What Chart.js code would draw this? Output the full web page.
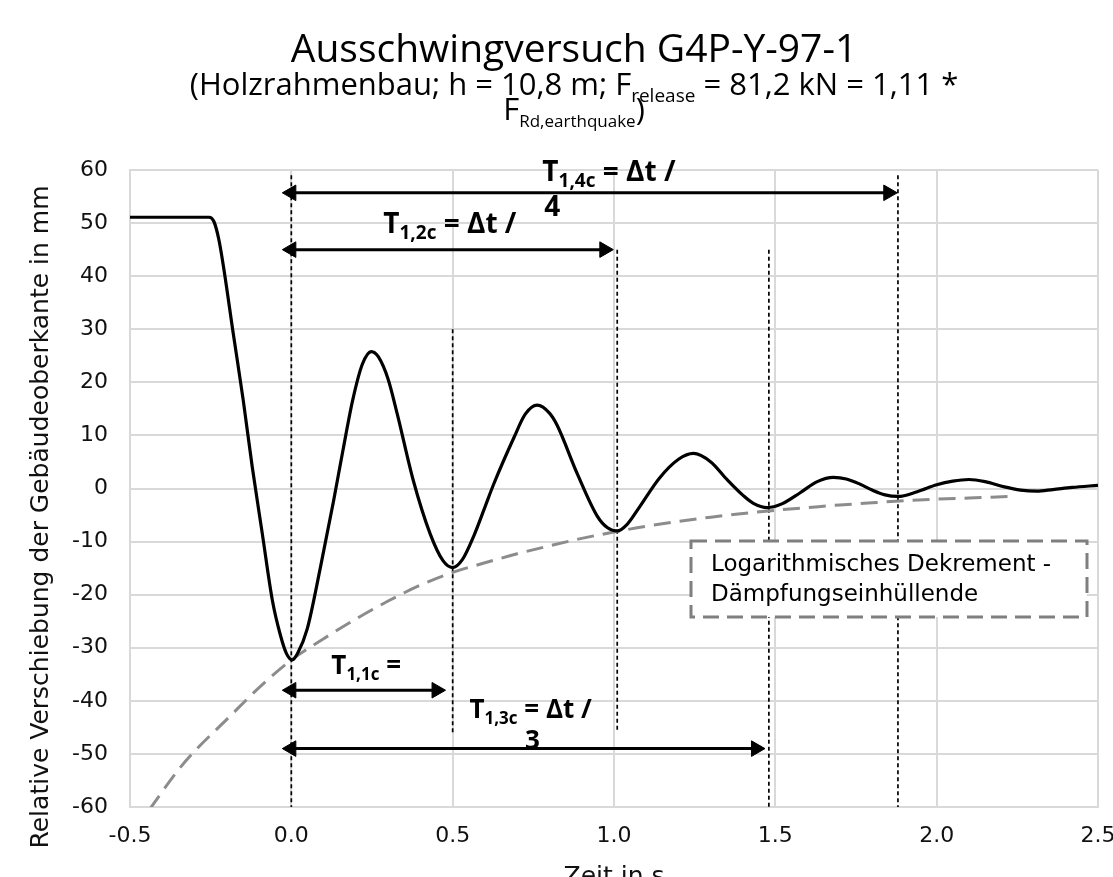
<!DOCTYPE html>
<html>
<head>
<meta charset="utf-8">
<script src="https://cdn.jsdelivr.net/npm/chart.js@4.4.1/dist/chart.umd.min.js"></script>
<style>
  html, body { margin: 0; padding: 0; background: #fff; }
  #wrap { width: 1113px; height: 877px; }
</style>
</head>
<body>
<div id="wrap"><canvas id="chart" width="1113" height="877"></canvas></div>
<script>
// ================================
//   MESSDATEN (aus dem Diagramm abgelesen)
// ================================
const zeit = [-0.5, -0.3, -0.255, -0.24, -0.225, -0.21, -0.18, -0.149, -0.121, -0.09,
  -0.059, -0.034, -0.015, 0.003, 0.02, 0.049, 0.09, 0.131, 0.16, 0.19,
  0.22, 0.248, 0.27, 0.3, 0.328, 0.378, 0.43, 0.47, 0.5, 0.53,
  0.565, 0.6, 0.627, 0.69, 0.725, 0.762, 0.8, 0.823, 0.886, 0.948,
  0.98, 1.01, 1.04, 1.08, 1.14, 1.2, 1.246, 1.3, 1.35, 1.4,
  1.432, 1.475, 1.52, 1.577, 1.63, 1.68, 1.72, 1.763, 1.8, 1.84,
  1.88, 1.94, 2.0, 2.05, 2.1, 2.15, 2.21, 2.26, 2.31, 2.36,
  2.42, 2.5];
const verschiebung = [51.1, 51.1, 51.1, 50.3, 47, 41.7, 29.2, 16.6, 4, -8.5,
  -21, -27.6, -31.1, -32.3, -31.0, -26.5, -14.9, -2.3, 7.2, 16.6,
  23.4, 25.8, 24.8, 20.6, 14.1, 1.5, -8.5, -13.6, -14.9, -13.4,
  -9.0, -3.5, 0.8, 9.6, 14, 15.7, 14.2, 12, 2.8, -5.2,
  -7.4, -8, -6.8, -3.4, 1.9, 5.5, 6.6, 5.0, 1.7, -1.3,
  -2.8, -3.6, -2.9, -0.8, 1.3, 2.1, 1.8, 0.8, -0.3, -1.2,
  -1.5, -0.6, 0.7, 1.4, 1.7, 1.3, 0.3, -0.3, -0.5, -0.2,
  0.2, 0.6];

// Dämpfungseinhüllende
const huellZeit = [-0.44, -0.35, -0.3, -0.2, -0.1, 0, 0.1, 0.2, 0.3, 0.4, 0.5, 0.6, 0.7, 0.8,
  0.9, 1.0, 1.1, 1.2, 1.3, 1.4, 1.5, 1.6, 1.7, 1.8, 1.9, 2.0, 2.1, 2.23];
const huellWert = [-60.5, -53, -49.5, -43.5, -37.5, -32.3, -28.3, -24.6, -21.2, -18.2, -15.8,
  -14, -12.3, -10.8, -9.4, -8.2, -7.1, -6.2, -5.4, -4.7, -4.1, -3.6, -3.1, -2.7, -2.3, -2.0,
  -1.8, -1.5];

// Periodenmarken (senkrechte Strichlinien)
const periodenZeit = [0, 0.5, 1.01, 1.48, 1.88];
const periodenOben = [59, 30, 45, 45, 59];
const periodenUnten = [-60, -46, -46, -60, -60];

// Pfeile T1,nc
const pfeilName = ["1,1c", "1,2c", "1,3c", "1,4c"];
const pfeilHoehe = [-38, 45, -49, 55.7];
const pfeilStart = [0, 0, 0, 0];
const pfeilEnde = [0.45, 0.97, 1.44, 1.85];

// ================================
//   HILFSFUNKTIONEN
// ================================
const FONT_TITEL = '"Open Sans", "DejaVu Sans", sans-serif';
const FONT_ACHSE = '"DejaVu Sans", sans-serif';

function richText(ctx, parts, x, y, align) {
  let w = 0;
  parts.forEach(p => { ctx.font = p.font; w += ctx.measureText(p.text).width; });
  let cx = align === "center" ? x - w / 2 : x;
  ctx.textAlign = "left";
  ctx.textBaseline = "alphabetic";
  parts.forEach(p => {
    ctx.font = p.font;
    ctx.fillText(p.text, cx, y + (p.dy || 0));
    cx += ctx.measureText(p.text).width;
  });
}

const datasets = [
  {
    label: "Verschiebung",
    data: zeit.map((t, i) => ({ x: t, y: verschiebung[i] })),
    borderColor: "#000",
    borderWidth: 3.2,
    pointRadius: 0,
    cubicInterpolationMode: "monotone",
    borderJoinStyle: "round",
    order: 1,
  },
  {
    label: "Einhüllende",
    data: huellZeit.map((t, i) => ({ x: t, y: huellWert[i] })),
    borderColor: "#8c8c8c",
    borderWidth: 3,
    borderDash: [17, 9],
    pointRadius: 0,
    cubicInterpolationMode: "monotone",
    order: 2,
  },
];

periodenZeit.forEach((t, i) => {
  datasets.push({
    label: "Periode " + i,
    data: [{ x: t, y: periodenOben[i] }, { x: t, y: periodenUnten[i] }],
    borderColor: "#000",
    borderWidth: 1.7,
    borderDash: [4, 3],
    pointRadius: 0,
    order: 3,
  });
});

pfeilName.forEach((n, i) => {
  datasets.push({
    label: "T" + n,
    data: [{ x: pfeilStart[i], y: pfeilHoehe[i] }, { x: pfeilEnde[i], y: pfeilHoehe[i] }],
    borderColor: "#000",
    borderWidth: 3,
    pointStyle: "triangle",
    pointRadius: 9,
    pointRotation: [-90, 90],
    pointBackgroundColor: "#000",
    pointBorderColor: "#000",
    pointBorderWidth: 1,
    order: 0,
  });
});

// ================================
//   BESCHRIFTUNGEN (Titel, Achsentitel, Pfeiltexte, Textfeld)
// ================================
const beschriftung = {
  id: "beschriftung",
  afterDraw(chart) {
    const ctx = chart.ctx;
    const x = chart.scales.x, y = chart.scales.y;
    ctx.save();
    ctx.fillStyle = "#000";

    // Titel
    const tx = 574;
    richText(ctx, [{ text: "Ausschwingversuch G4P-Y-97-1", font: "39px " + FONT_TITEL }], tx, 62, "center");
    const gross = "31px " + FONT_TITEL, klein = "19px " + FONT_TITEL;
    richText(ctx, [
      { text: "(Holzrahmenbau; h = 10,8 m; F", font: gross },
      { text: "release", font: klein, dy: 7 },
      { text: " = 81,2 kN = 1,11 *", font: gross },
    ], tx, 95, "center");
    richText(ctx, [
      { text: "F", font: gross },
      { text: "Rd,earthquake", font: "17px " + FONT_TITEL, dy: 7 },
      { text: ")", font: gross },
    ], tx, 120, "center");

    // y-Achsentitel
    ctx.save();
    ctx.translate(41, 517);
    ctx.rotate(-Math.PI / 2);
    ctx.fillStyle = "#111";
    ctx.font = "25px " + FONT_ACHSE;
    ctx.textAlign = "center";
    ctx.textBaseline = "middle";
    ctx.fillText("Relative Verschiebung der Gebäudeoberkante in mm", 0, 0);
    ctx.restore();

    // Pfeiltexte
    const fb = "bold 26px " + FONT_TITEL, fs = "bold 17px " + FONT_TITEL;
    const fb2 = "bold 28px " + FONT_TITEL, fs2 = "bold 19px " + FONT_TITEL;
    const label = (n, rest, t, v, f1, f2) => richText(ctx, [
      { text: "T", font: f1 },
      { text: n, font: f2, dy: 6 },
      { text: rest, font: f1 },
    ], x.getPixelForValue(t), y.getPixelForValue(v), "left");
    label("1,1c", " =", 0.124, -34.9, fb, fs);
    label("1,2c", " = Δt /", 0.285, 48.1, fb2, fs2);
    label("1,3c", " = Δt /", 0.552, -43.2, fb, fs);
    label("1,4c", " = Δt /", 0.778, 57.9, fb2, fs2);
    richText(ctx, [{ text: "3", font: fb }], x.getPixelForValue(0.747), y.getPixelForValue(-49), "center");
    richText(ctx, [{ text: "4", font: fb2 }], x.getPixelForValue(0.809), y.getPixelForValue(51.3), "center");

    // Textfeld
    const bx = 691, by = 541, bw = 396, bh = 76;
    ctx.fillStyle = "#fff";
    ctx.fillRect(bx, by, bw, bh);
    ctx.setLineDash([16, 8]);
    ctx.lineWidth = 3;
    ctx.strokeStyle = "#7f7f7f";
    ctx.strokeRect(bx, by, bw, bh);
    ctx.setLineDash([]);
    ctx.fillStyle = "#000";
    richText(ctx, [{ text: "Logarithmisches Dekrement -", font: "23px " + FONT_ACHSE }], 711, 571, "left");
    richText(ctx, [{ text: "Dämpfungseinhüllende", font: "23px " + FONT_ACHSE }], 711, 601, "left");
    ctx.restore();
  },
};

// ================================
//   CHART
// ================================
new Chart(document.getElementById("chart"), {
  type: "scatter",
  data: { datasets: datasets.map(d => Object.assign({ showLine: true }, d)) },
  options: {
    responsive: false,
    animation: false,
    layout: { padding: { top: 170, right: 15, bottom: 0, left: 0 } },
    plugins: {
      legend: { display: false },
      tooltip: { enabled: false },
      title: { display: false },
    },
    scales: {
      x: {
        type: "linear",
        min: -0.5,
        max: 2.5,
        afterFit: s => { s.height = 70; s.paddingLeft = 0; s.paddingRight = 0; },
        ticks: {
          stepSize: 0.5,
          padding: 16,
          color: "#111",
          font: { family: FONT_ACHSE, size: 22 },
          callback: v => v.toFixed(1),
        },
        grid: { color: "#d9d9d9", lineWidth: 2, drawTicks: false },
        border: { color: "#d9d9d9", width: 2 },
        title: {
          display: true,
          text: "Zeit in s",
          color: "#111",
          font: { family: FONT_ACHSE, size: 25 },
          padding: { top: 0, bottom: -15 },
        },
      },
      y: {
        type: "linear",
        min: -60,
        max: 60,
        afterFit: s => { s.width = 130; s.paddingTop = 0; s.paddingBottom = 0; },
        ticks: {
          stepSize: 10,
          padding: 22,
          color: "#111",
          font: { family: FONT_ACHSE, size: 22 },
        },
        grid: { color: "#d9d9d9", lineWidth: 2, drawTicks: false },
        border: { color: "#d9d9d9", width: 2 },
      },
    },
  },
  plugins: [beschriftung],
});
</script>
</body>
</html>
